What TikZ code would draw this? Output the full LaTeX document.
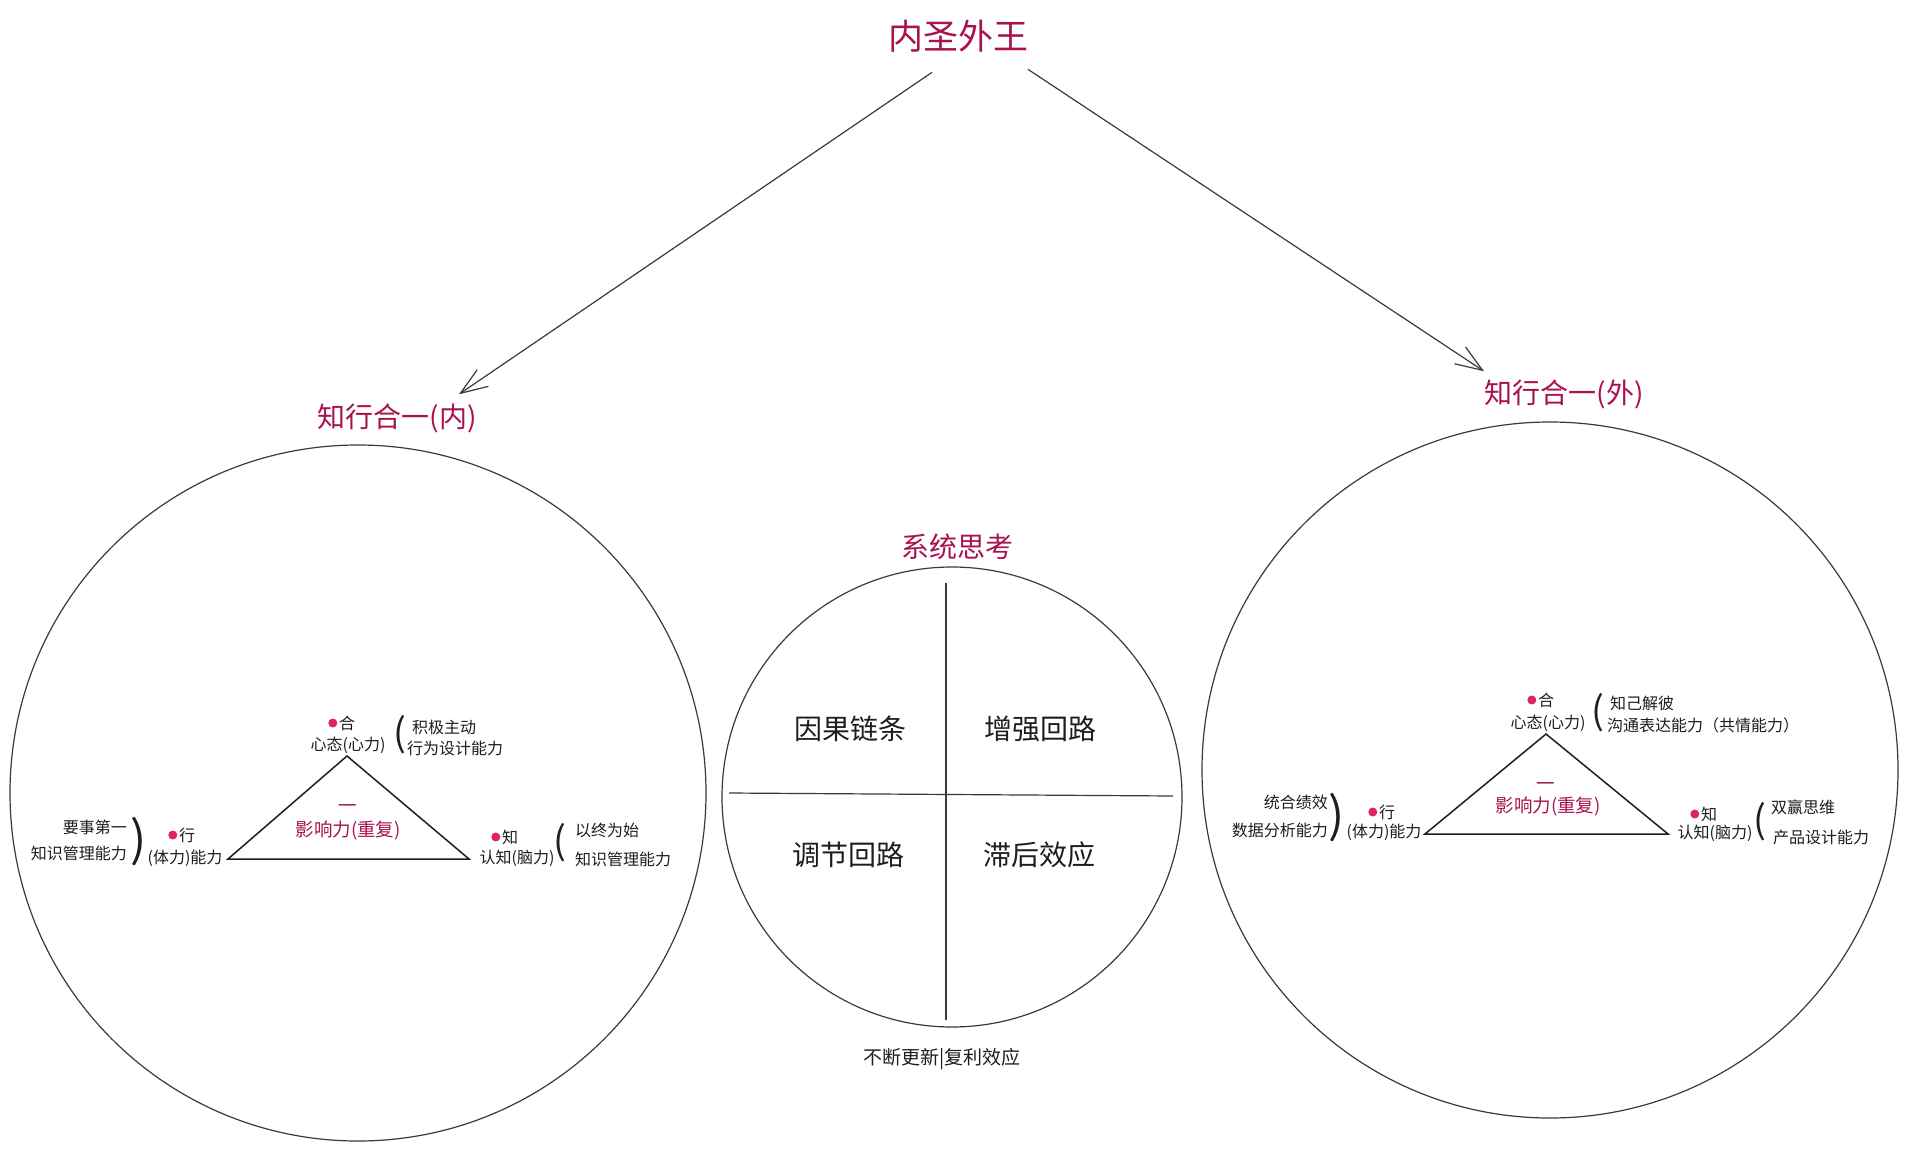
\documentclass[tikz,border=0pt]{standalone}
\usepackage{fontspec}
\setmainfont{Noto Sans CJK SC}
\usetikzlibrary{arrows.meta}
\definecolor{ink}{HTML}{1E1E1E}
\definecolor{sketchgray}{HTML}{3A3A3A}
\definecolor{berry}{HTML}{A8124F}
\definecolor{dotred}{HTML}{D9275E}
\tikzset{
  txt/.style={inner sep=0pt, text=ink, font=\fontsize{16pt}{18pt}\selectfont},
  head/.style={inner sep=0pt, text=berry, font=\fontsize{28pt}{30pt}\selectfont},
  quad/.style={inner sep=0pt, text=ink, font=\fontsize{28pt}{30pt}\selectfont},
  core/.style={inner sep=0pt, text=berry, font=\fontsize{18.5pt}{20pt}\selectfont},
  openpar/.style={inner sep=0pt, text=ink, font=\fontsize{38pt}{38pt}\selectfont},
  closepar/.style={inner sep=0pt, text=ink, font=\fontsize{48pt}{48pt}\selectfont},
  sketch/.style={draw=sketchgray, line width=1.2pt},
  tri/.style={draw=ink, line width=1.5pt, line join=miter},
  arr/.style={sketch, -{Straight Barb[length=27pt,width=20pt]}},
}

\begin{document}
\begin{tikzpicture}[x=1pt, y=-1pt]
  \useasboundingbox[fill=white] (0,0) rectangle (1905,1150);
  % title and the two branches
  \node[inner sep=0pt, text=berry, font=\fontsize{35pt}{36pt}\selectfont] (title) at (958,36) {内圣外王};
  \node[head] (lblin) at (397,418) {知行合一(内)};
  \node[head] (lblout) at (1564,394) {知行合一(外)};
  \draw[arr] ([xshift=-26pt,yshift=-20pt]title.south) -- ([xshift=62pt,yshift=9pt]lblin.north);
  \draw[arr] ([xshift=70pt,yshift=-17pt]title.south) -- ([xshift=-80pt,yshift=8pt]lblout.north);

  % left circle: inner unity
  \draw[sketch] (358,793) circle[radius=348];
  \coordinate (tinA) at (347,756);
  \coordinate (tinB) at (228,859);
  \coordinate (tinC) at (469,859);
  \draw[tri] (tinA) -- (tinB) -- (tinC) -- cycle;
  \node[txt] (hein) at (347,723) {合};
  \fill[dotred] ([xshift=-6pt]hein.west) circle (4.5pt);
  \node[txt] (xinin) at (348,745) {心态(心力)};
  \node[openpar] (pin1) at (400,735) {(};
  \node[txt, anchor=west] (xin1) at (412,727) {积极主动};
  \node[txt, anchor=west] (xin2) at (407,748) {行为设计能力};
  \node[txt, text=berry, font=\fontsize{18.5pt}{20pt}\selectfont] (onein) at (348,809) {一};
  \node[core] (corein) at (348,831) {影响力(重复)};
  \node[txt, anchor=east] (xing1) at (127,827) {要事第一};
  \node[txt, anchor=east] (xing2) at (127,853) {知识管理能力};
  \node[closepar] (pin2) at (139,842) {)};
  \node[txt] (xingin) at (187,835) {行};
  \fill[dotred] ([xshift=-6pt]xingin.west) circle (4.5pt);
  \node[txt] (tiin) at (185,858) {(体力)能力};
  \node[txt] (zhiin) at (510,837) {知};
  \fill[dotred] ([xshift=-6pt]zhiin.west) circle (4.5pt);
  \node[txt] (naoin) at (517,858) {认知(脑力)};
  \node[openpar] (pin3) at (560,843) {(};
  \node[txt, anchor=west] (zhi1) at (575,830) {以终为始};
  \node[txt, anchor=west] (zhi2) at (575,859) {知识管理能力};

  % middle circle: systems thinking
  \node[head] (sys) at (957,547) {系统思考};
  \draw[sketch] (952,797) circle[radius=230];
  \draw[sketch] (946,583) -- (946,1020);
  \draw[sketch] (729,793) -- (1173,796);
  \node[quad] (qa) at (850,729) {因果链条};
  \node[quad] (qb) at (1040,729) {增强回路};
  \node[quad] (qc) at (848,855) {调节回路};
  \node[quad] (qd) at (1039,855) {滞后效应};
  \node[inner sep=0pt, text=ink, font=\fontsize{19pt}{20pt}\selectfont] (renew) at (942,1059) {不断更新|复利效应};

  % right circle: outer unity
  \draw[sketch] (1550,770) circle[radius=348];
  \coordinate (toutA) at (1546,734);
  \coordinate (toutB) at (1425,834);
  \coordinate (toutC) at (1668,834);
  \draw[tri] (toutA) -- (toutB) -- (toutC) -- cycle;
  \node[txt] (heout) at (1546,700) {合};
  \fill[dotred] ([xshift=-6pt]heout.west) circle (4.5pt);
  \node[txt] (xinout) at (1548,723) {心态(心力)};
  \node[openpar] (pout1) at (1598,713) {(};
  \node[txt, anchor=west] (xo1) at (1610,703) {知己解彼};
  \node[txt, anchor=west] (xo2) at (1607,725) {沟通表达能力（共情能力）};
  \node[txt, text=berry, font=\fontsize{18.5pt}{20pt}\selectfont] (oneout) at (1546,787) {一};
  \node[core] (coreout) at (1548,807) {影响力(重复)};
  \node[txt, anchor=east] (xgo1) at (1328,802) {统合绩效};
  \node[txt, anchor=east] (xgo2) at (1328,830) {数据分析能力};
  \node[closepar] (pout2) at (1337,818) {)};
  \node[txt] (xingout) at (1387,812) {行};
  \fill[dotred] ([xshift=-6pt]xingout.west) circle (4.5pt);
  \node[txt] (tiout) at (1384,832) {(体力)能力};
  \node[txt] (zhiout) at (1709,814) {知};
  \fill[dotred] ([xshift=-6pt]zhiout.west) circle (4.5pt);
  \node[txt] (naoout) at (1715,833) {认知(脑力)};
  \node[openpar] (pout3) at (1760,822) {(};
  \node[txt, anchor=west] (zo1) at (1771,807) {双赢思维};
  \node[txt, anchor=west] (zo2) at (1773,837) {产品设计能力};
\end{tikzpicture}
\end{document}
